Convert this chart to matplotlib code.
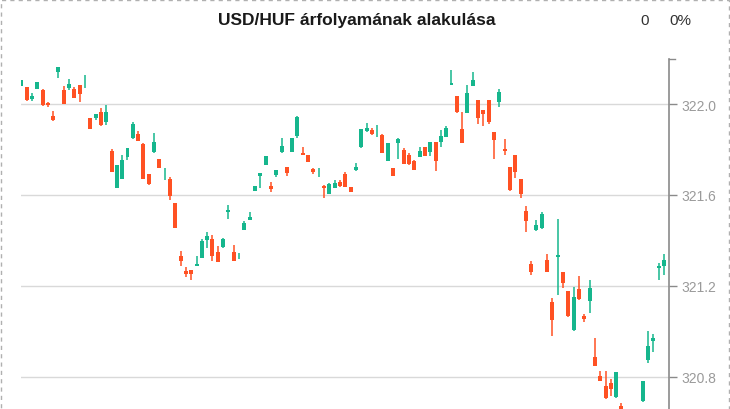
import numpy as np
import matplotlib
matplotlib.use("Agg")
import matplotlib.pyplot as plt
from matplotlib.patches import Rectangle

plt.rcParams['font.family'] = ['Liberation Sans', 'DejaVu Sans']

title = "USD/HUF árfolyamának alakulása"
nan = np.nan

opens = [322.081, 322.075, 322.023, 322.067, 322.062, 322.003, 321.947, 322.142, 322.062, 322.070,
         322.066, 322.084, 322.095, 321.938, 321.938, 321.965, 321.921, 321.793, 321.631, 321.670,
         321.767, 321.851, 321.868, 321.824, 321.692, 321.789, 321.758, 321.690, 321.670, 321.565,
         321.332, 321.266, 321.270, 321.288, 321.323, 321.402, 321.407, 321.349, 321.371, 321.525,
         321.349, 321.330, 321.446, 321.490, 321.618, 321.684, 321.732, 321.640, 321.688, 321.789,
         321.723, 321.789, 321.859, 321.785, 321.776, 321.714, 321.700, 321.640, 321.604, 321.631,
         321.657, 321.692, 321.635, 321.710, 321.811, 321.881, 321.886, 321.880, 321.864, 321.749,
         321.719, 321.829, 321.798, 321.776, 321.749, 321.767, 321.811, 321.789, 321.833, 321.833,
         321.855, 322.085, 322.035, 321.890, 321.960, 322.079, 322.018, 321.974, 322.018, 321.877,
         322.009, 321.802, 321.723, 321.776, 321.670, 321.530, 321.297, 321.446, 321.455, 321.314,
         321.130, 321.327, 321.262, 321.178, 321.007, 321.187, 321.068, 321.134, 320.888, 320.804,
         320.760, 320.774, 320.712, 320.673, nan, nan, nan, 320.695, 320.875, 320.958,
         321.279, 321.288]
highs = [322.105, 322.075, 322.048, 322.097, 322.066, 322.010, 321.969, 322.163, 322.079, 322.110,
         322.075, 322.084, 322.127, 321.938, 321.956, 321.982, 321.996, 321.802, 321.732, 321.776,
         321.807, 321.921, 321.881, 321.829, 321.692, 321.873, 321.758, 321.719, 321.679, 321.565,
         321.354, 321.284, 321.270, 321.332, 321.407, 321.437, 321.424, 321.376, 321.411, 321.556,
         321.380, 321.345, 321.486, 321.525, 321.640, 321.697, 321.771, 321.657, 321.710, 321.851,
         321.723, 321.851, 321.947, 321.811, 321.776, 321.719, 321.719, 321.644, 321.653, 321.666,
         321.666, 321.701, 321.635, 321.741, 321.890, 321.916, 321.895, 321.908, 321.868, 321.829,
         321.719, 321.851, 321.807, 321.785, 321.754, 321.811, 321.811, 321.833, 321.833, 321.886,
         321.903, 322.149, 322.035, 321.965, 322.084, 322.141, 322.018, 321.974, 322.018, 321.877,
         322.066, 321.846, 321.723, 321.776, 321.670, 321.552, 321.310, 321.490, 321.525, 321.341,
         321.147, 321.495, 321.262, 321.178, 321.196, 321.244, 321.077, 321.226, 320.971, 320.826,
         320.826, 320.791, 320.822, 320.686, nan, nan, nan, 320.782, 321.002, 320.989,
         321.301, 321.341]
lows = [322.081, 322.013, 322.013, 322.067, 321.993, 321.988, 321.925, 322.116, 322.001, 322.062,
        322.026, 322.009, 322.070, 321.890, 321.930, 321.903, 321.908, 321.701, 321.631, 321.670,
        321.754, 321.846, 321.837, 321.670, 321.644, 321.785, 321.719, 321.666, 321.578, 321.455,
        321.288, 321.240, 321.226, 321.288, 321.323, 321.367, 321.310, 321.305, 321.367, 321.495,
        321.310, 321.319, 321.446, 321.490, 321.618, 321.631, 321.732, 321.613, 321.679, 321.785,
        321.684, 321.789, 321.851, 321.776, 321.745, 321.692, 321.679, 321.587, 321.604, 321.631,
        321.635, 321.635, 321.613, 321.705, 321.807, 321.877, 321.864, 321.855, 321.785, 321.749,
        321.684, 321.758, 321.736, 321.732, 321.710, 321.767, 321.771, 321.771, 321.705, 321.811,
        321.855, 322.085, 321.960, 321.829, 321.960, 322.079, 321.912, 321.903, 321.912, 321.758,
        321.987, 321.776, 321.618, 321.675, 321.587, 321.437, 321.248, 321.442, 321.451, 321.262,
        320.980, 321.160, 321.191, 321.064, 321.002, 321.138, 321.042, 321.081, 320.848, 320.782,
        320.703, 320.717, 320.708, 320.640, nan, nan, nan, 320.690, 320.862, 320.910,
        321.226, 321.248]
closes = [322.105, 322.018, 322.035, 322.097, 321.997, 321.997, 321.930, 322.163, 322.001, 322.088,
          322.026, 322.044, 322.095, 321.890, 321.956, 321.908, 321.965, 321.701, 321.732, 321.754,
          321.807, 321.912, 321.837, 321.670, 321.648, 321.833, 321.719, 321.690, 321.596, 321.455,
          321.310, 321.253, 321.253, 321.297, 321.398, 321.420, 321.332, 321.305, 321.407, 321.534,
          321.310, 321.330, 321.477, 321.503, 321.640, 321.697, 321.771, 321.626, 321.710, 321.815,
          321.697, 321.851, 321.943, 321.776, 321.745, 321.701, 321.700, 321.631, 321.648, 321.653,
          321.640, 321.635, 321.613, 321.723, 321.890, 321.895, 321.868, 321.880, 321.785, 321.829,
          321.684, 321.846, 321.736, 321.736, 321.710, 321.793, 321.771, 321.833, 321.749, 321.859,
          321.895, 322.092, 321.965, 321.829, 322.048, 322.105, 321.938, 321.956, 321.921, 321.842,
          322.053, 321.793, 321.622, 321.701, 321.604, 321.486, 321.262, 321.468, 321.516, 321.262,
          321.051, 321.336, 321.213, 321.068, 321.152, 321.143, 321.055, 321.191, 320.848, 320.782,
          320.708, 320.747, 320.822, 320.650, nan, nan, nan, 320.782, 320.936, 320.971,
          321.288, 321.314]

y_ticks = [320.8, 321.2, 321.6, 322.0]
counter_text = "0"
percent_text = "0%"

UP = '#16B68D'
DOWN = '#FF5123'

o = np.array(opens); h = np.array(highs); l = np.array(lows); c = np.array(closes)
x = np.arange(len(o))
colors = [UP if cc >= oo else DOWN for oo, cc in zip(o, c)]

fig = plt.figure(figsize=(7.3, 4.1), dpi=100)
W, H = 730, 410
ax = fig.add_axes([21 / W, 0, (669 - 21) / W, 1 - 60 / H])

# wicks
ax.vlines(x, l, h, colors=colors, linewidth=1.1, zorder=2)
# bodies
ax.bar(x, np.abs(c - o), bottom=np.minimum(o, c), width=0.75, color=colors,
       linewidth=0, zorder=3)

ax.set_xlim(-0.05, len(o) - 1 + 0.95)
ax.set_ylim(320.659, 322.198)

ax.yaxis.tick_right()
ax.set_yticks(y_ticks)
ax.set_yticklabels([f"{v:.1f}" for v in y_ticks])
ax.tick_params(axis='y', which='both', direction='out', length=6, width=1,
               color='#8a8a8a', labelcolor='#9a9a9a', labelsize=10, pad=3)
ax.tick_params(axis='x', bottom=False, labelbottom=False)
ax.grid(axis='y', color='#d9d9d9', linewidth=1)
ax.set_axisbelow(True)
for s in ['left', 'top', 'bottom']:
    ax.spines[s].set_visible(False)
ax.spines['right'].set_color('#8a8a8a')
ax.spines['right'].set_linewidth(1.2)
# small end tick at the top of the axis
ax.plot([1.0, 1.0 + 6 / 648], [1.0, 1.0], transform=ax.transAxes, color='#8a8a8a',
        linewidth=1, clip_on=False)

fig.text(357 / W, 1 - 21 / H, title, ha='center', va='center', fontsize=12.5,
         fontweight='bold', color='#1a1a1a')
fig.text(645 / W, 1 - 21 / H, counter_text, ha='center', va='center', fontsize=11,
         color='#333333')
fig.text(680 / W, 1 - 21 / H, percent_text, ha='center', va='center', fontsize=11,
         color='#333333')

# dashed outer border
border = Rectangle((0.5 / W, -0.01), (W - 1.5) / W, 1.01 - 0.5 / H, transform=fig.transFigure,
                   fill=False, edgecolor='#b0b0b0', linewidth=1, linestyle=(0, (3, 3)))
fig.patches.append(border)

fig.savefig('out.png', dpi=100)
